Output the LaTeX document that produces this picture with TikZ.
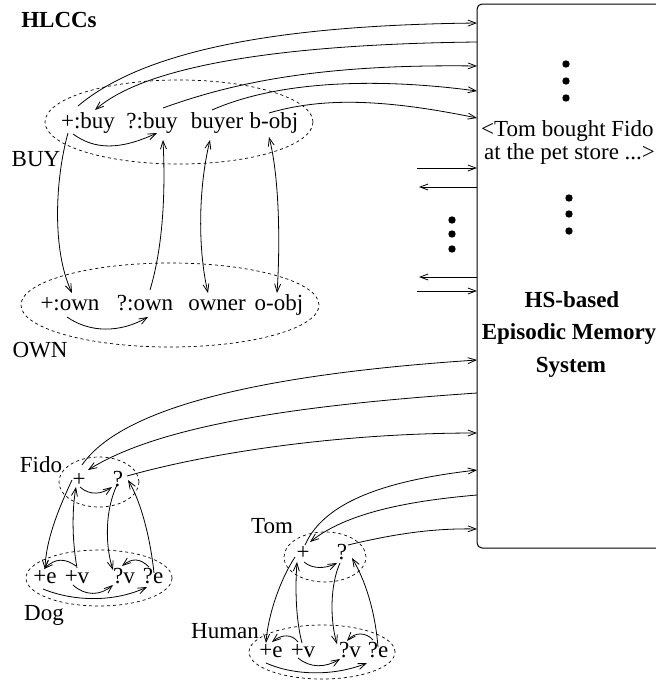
\documentclass[tikz,border=0pt]{standalone}
\usepackage{fontspec}
\setmainfont{Liberation Serif}
\usetikzlibrary{arrows.meta}
\begin{document}
\begin{tikzpicture}[x=1pt,y=-1pt,
  lbl/.style={anchor=base,inner sep=0pt,font=\fontsize{23}{27}\selectfont},
  bld/.style={anchor=base,inner sep=0pt,font=\fontsize{23}{27}\selectfont\bfseries},
  arr/.style={-{Straight Barb[length=8pt,width=6pt]}, line width=0.8pt},
  dbl/.style={{Straight Barb[length=8pt,width=6pt]}-{Straight Barb[length=8pt,width=6pt]}, line width=0.8pt},
  grp/.style={dashed, line width=0.7pt}]
\useasboundingbox (0,0) rectangle (656,681);

% memory system box
\draw[line width=1pt, rounded corners=5pt] (656,4) -- (477,4) -- (477,548) -- (656,548);
\foreach \n/\y in {1/23,2/42,3/66,4/91,5/118,6/168,7/187,8/277,9/291,10/360,11/393,12/433,13/470,14/495,15/529}
  \coordinate (e\n) at (477,\y);
\coordinate (s1) at (417,168);
\coordinate (s2) at (419,187);
\coordinate (s3) at (419,277);
\coordinate (s4) at (417,291);

\node[lbl,anchor=base west] (ep1) at (481,136) {<Tom bought Fido};
\node[lbl,anchor=base west] (ep2) at (484,159) {at the pet store ...>};
\node[bld] (hs1) at (572,307) {HS-based};
\node[bld] (hs2) at (569,339) {Episodic Memory};
\node[bld] (hs3) at (571,372) {System};

% dots
\foreach \y in {64,81,98} \fill (566,\y) circle [radius=3.7pt];
\foreach \y in {198,214,231} \fill (569,\y) circle [radius=3.7pt];
\foreach \y in {220,234,249} \fill (452,\y) circle [radius=3.7pt];

% short arrows
\draw[arr] (s1) -- (e6);
\draw[arr] (e7) -- (s2);
\draw[arr] (e8) -- (s3);
\draw[arr] (s4) -- (e9);

% labels
\node[bld] (hlcc) at (59,27) {HLCCs};
\node[lbl] (buyl) at (36,166) {BUY};
\node[lbl] (ownl) at (40,357) {OWN};
\node[lbl] (fidol) at (41,472) {Fido};
\node[lbl] (dogl) at (44,620) {Dog};
\node[lbl] (toml) at (272,533) {Tom};
\node[lbl] (humanl) at (225,638) {Human};

% groups
\draw[grp] (179,122) ellipse [x radius=134pt, y radius=42pt];
\draw[grp] (170,305) ellipse [x radius=149pt, y radius=42pt];
\draw[grp] (99,482) ellipse [x radius=40pt, y radius=25pt];
\draw[grp] (99,578) ellipse [x radius=73pt, y radius=28pt];
\draw[grp] (325,557) ellipse [x radius=41pt, y radius=25pt];
\draw[grp] (322,652) ellipse [x radius=73pt, y radius=27pt];

% items
\node[lbl] (pbuy) at (88,128) {+:buy};
\node[lbl] (qbuy) at (152,128) {?:buy};
\node[lbl] (buyer) at (217,128) {buyer};
\node[lbl] (bobj) at (274,128) {b-obj};
\node[lbl] (pown) at (70,310) {+:own};
\node[lbl] (qown) at (145,310) {?:own};
\node[lbl] (owner) at (217,310) {owner};
\node[lbl] (oobj) at (279,310) {o-obj};
\node[lbl] (fp) at (79,486) {+};
\node[lbl] (fq) at (118,486) {?};
\node[lbl] (de) at (45,583) {+e};
\node[lbl] (dv) at (77,583) {+v};
\node[lbl] (dqv) at (124,583) {?v};
\node[lbl] (dqe) at (153,583) {?e};
\node[lbl] (tp) at (303,559) {+};
\node[lbl] (tq) at (342,559) {?};
\node[lbl] (he) at (271,657) {+e};
\node[lbl] (hv) at (303,657) {+v};
\node[lbl] (hqv) at (350,657) {?v};
\node[lbl] (hqe) at (378,657) {?e};

% BUY to memory
\draw[arr] ([shift={(-10,-22)}]pbuy.base) .. controls (150,45) and (300,25) .. (e1);
\draw[arr] (e2) .. controls (300,44) and (150,62) .. ([shift={(7,-18)}]pbuy.base);
\draw[arr] ([shift={(11,-20)}]qbuy.base) .. controls (240,80) and (330,64) .. (e3);
\draw[arr] ([shift={(-5,-18)}]buyer.base) .. controls (280,80) and (380,78) .. (e4);
\draw[arr] ([shift={(-5,-15)}]bobj.base) .. controls (320,98) and (380,98) .. (e5);

% BUY <-> OWN
\draw[arr] ([shift={(-20,5)}]pbuy.base) .. controls (55,180) and (52,250) .. ([shift={(2,-17)}]pown.base);
\draw[arr] ([shift={(5,-20)}]qown.base) .. controls (165,240) and (165,180) .. ([shift={(11,12)}]qbuy.base);
\draw[dbl] ([shift={(-7,12)}]buyer.base) .. controls (198,190) and (198,250) .. ([shift={(-9,-17)}]owner.base);
\draw[dbl] ([shift={(-5,9)}]bobj.base) .. controls (280,180) and (280,250) .. ([shift={(-2,-17)}]oobj.base);
\draw[arr] ([shift={(-15,6)}]pbuy.base) .. controls (95,150) and (120,150) .. ([shift={(5,5)}]qbuy.base);
\draw[arr] ([shift={(-3,7)}]pown.base) .. controls (90,333) and (120,333) .. ([shift={(3,7)}]qown.base);

% Fido to memory
\draw[arr] ([shift={(3,-21)}]fp.base) .. controls (120,410) and (250,375) .. (e10);
\draw[arr] (e11) .. controls (300,405) and (160,425) .. ([shift={(9,-16)}]fp.base);
\draw[arr] ([shift={(9,-10)}]fq.base) .. controls (220,450) and (350,433) .. (e12);

% Tom to memory
\draw[arr] ([shift={(2,-14)}]tp.base) .. controls (325,500) and (390,480) .. (e13);
\draw[arr] (e14) .. controls (420,500) and (350,510) .. ([shift={(7,-17)}]tp.base);
\draw[arr] ([shift={(6,-14)}]tq.base) .. controls (390,535) and (430,528) .. (e15);

% Fido / Dog
\draw[arr] ([shift={(1,1)}]fp.base) .. controls (90,496) and (102,494) .. ([shift={(-6,1)}]fq.base);
\draw[arr] ([shift={(-7,-6)}]fp.base) .. controls (58,510) and (46,540) .. ([shift={(0,-14)}]de.base);
\draw[arr] ([shift={(0,-15)}]dv.base) .. controls (72,540) and (72,510) .. ([shift={(-3,1)}]fp.base);
\draw[arr] ([shift={(-1,-1)}]fq.base) .. controls (105,510) and (105,545) .. ([shift={(-11,-13)}]dqv.base);
\draw[arr] ([shift={(1,-10)}]dqe.base) .. controls (150,535) and (140,500) .. ([shift={(10,-6)}]fq.base);
\draw[arr] ([shift={(-1,-17)}]dv.base) .. controls (65,558) and (55,558) .. ([shift={(-1,-14)}]de.base);
\draw[arr] ([shift={(-4,-16)}]dqe.base) .. controls (140,558) and (132,558) .. ([shift={(-2,-17)}]dqv.base);
\draw[arr] ([shift={(-4,2)}]dv.base) .. controls (85,596) and (100,596) .. ([shift={(-11,2)}]dqv.base);
\draw[arr] ([shift={(-2,6)}]de.base) .. controls (75,602) and (115,602) .. ([shift={(-6,4)}]dqe.base);

% Tom / Human
\draw[arr] ([shift={(1,3)}]tp.base) .. controls (312,569) and (325,569) .. ([shift={(-5,4)}]tq.base);
\draw[arr] ([shift={(-8,-2)}]tp.base) .. controls (280,580) and (268,615) .. ([shift={(-5,-14)}]he.base);
\draw[arr] ([shift={(-1,-14)}]hv.base) .. controls (296,620) and (295,590) .. ([shift={(-6,3)}]tp.base);
\draw[arr] ([shift={(-2,4)}]tq.base) .. controls (330,585) and (330,620) .. ([shift={(-13,-13)}]hqv.base);
\draw[arr] ([shift={(0,-10)}]hqe.base) .. controls (375,610) and (365,580) .. ([shift={(10,-1)}]tq.base);
\draw[arr] ([shift={(-5,-15)}]hv.base) .. controls (292,634) and (282,634) .. ([shift={(1,-15)}]he.base);
\draw[arr] ([shift={(-5,-17)}]hqe.base) .. controls (366,632) and (355,632) .. ([shift={(-3,-16)}]hqv.base);
\draw[arr] ([shift={(-5,1)}]hv.base) .. controls (310,668) and (325,668) .. ([shift={(-10,2)}]hqv.base);
\draw[arr] ([shift={(-5,6)}]he.base) .. controls (295,676) and (335,676) .. ([shift={(-11,6)}]hqe.base);
\end{tikzpicture}
\end{document}
